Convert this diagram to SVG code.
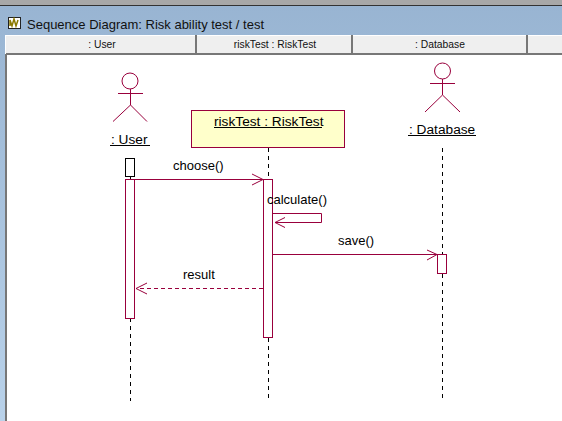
<svg xmlns="http://www.w3.org/2000/svg" width="562" height="421" viewBox="0 0 562 421">
<style>
text{font-family:"Liberation Sans",Arial,sans-serif;fill:#000}
.m{font-size:13px}
.n{font-size:13.700px}
.h{font-size:10.300px;text-anchor:middle;fill:#111}
.p{fill:none;stroke:#99003c;stroke-width:1}
.b{fill:#fff;stroke:#99003c;stroke-width:1}
.l{stroke:#000;stroke-width:1;stroke-dasharray:4 4;fill:none}
.u{stroke:#000;stroke-width:1}
</style>
<defs>
<linearGradient id="t" x1="0" y1="0" x2="0" y2="1"><stop offset="0" stop-color="#98b4d2"/><stop offset="1" stop-color="#b9d2ea"/></linearGradient>
</defs>
<g id="window">
<rect x="0" y="0" width="562" height="421" fill="url(#t)"/>
<rect x="0" y="0" width="562" height="5" fill="#a8a8a8"/>
<rect x="0" y="5" width="562" height="1" fill="#333"/>
<rect x="8.500" y="17.500" width="12" height="11" fill="#fff" stroke="#222"/>
<path d="M10 26V20L12 26L14 19L16 26L18 20" fill="none" stroke="#8a7a00" stroke-width="1.500"/>
<text x="27" y="29" style="font-size:13px;fill:#111">Sequence Diagram: Risk ability test / test</text>
<rect x="5" y="35" width="557" height="19" fill="#efefef"/>
<rect x="5" y="35" width="557" height="1" fill="#fff"/>
<rect x="5" y="53" width="557" height="2" fill="#777"/>
<rect x="5" y="35" width="1" height="19" fill="#fff"/>
<rect x="195" y="35" width="2" height="18" fill="#777"/>
<rect x="351" y="35" width="2" height="18" fill="#777"/>
<rect x="526" y="35" width="2" height="18" fill="#777"/>
<text class="h" x="102" y="48">: User</text>
<text class="h" x="275" y="48">riskTest : RiskTest</text>
<text class="h" x="440" y="48">: Database</text>
<rect x="5" y="55" width="557" height="366" fill="#fff"/>
<rect x="5" y="55" width="2" height="366" fill="#777"/>
</g>
<g id="connectors">
<path class="l" d="M130.500 318V401"/>
<path class="l" d="M130.500 177V180"/>
<path class="l" d="M268.500 148V180"/>
<path class="l" d="M268.500 338V402"/>
<path class="l" d="M442.500 148V254"/>
<path class="l" d="M442.500 274V402"/>
<path class="p" d="M134 179.500H263"/>
<path class="p" d="M252 174L263 179.500L252 185"/>
<path class="p" d="M273 213.500H321.500V222.500H275"/>
<path class="p" d="M285 217.500L275 222.500L285 227.500"/>
<path class="p" d="M273 254.500H437"/>
<path class="p" d="M427 250L437 254.500L427 260"/>
<path class="p" d="M263 288.500H136" stroke-dasharray="4 3"/>
<path class="p" d="M147 283L136 288.500L147 294"/>
</g>
<g id="user">
<circle class="p" cx="130" cy="81" r="8"/>
<path class="p" d="M130.500 89V105M118 93.500H143M130.500 105L113 121.500M130.500 105L147 121.500"/>
<text class="n" x="111" y="144">: User</text>
<path class="u" d="M110 145.500H150"/>
<rect x="125.500" y="158.500" width="9" height="18" fill="#fff" stroke="#000"/>
<rect class="b" x="125.500" y="179.500" width="9" height="139"/>
</g>
<g id="riskTest">
<rect x="191.500" y="110.500" width="153" height="37" fill="#ffffcb" stroke="#99003c"/>
<text class="n" x="214" y="126">riskTest : RiskTest</text>
<path class="u" d="M214 127.500H322"/>
<rect class="b" x="263.500" y="179.500" width="9" height="158"/>
</g>
<g id="database">
<circle class="p" cx="442.500" cy="71" r="8"/>
<path class="p" d="M442.500 79V95M430 83.500H455M442.500 95L425 112M442.500 95L460 112"/>
<text class="n" x="409" y="134">: Database</text>
<path class="u" d="M408 135.500H476"/>
<rect class="b" x="437.500" y="254.500" width="9" height="19"/>
</g>
<g id="connector-labels">
<text class="m" x="173" y="170">choose()</text>
<text class="m" x="267" y="204">calculate()</text>
<text class="m" x="338" y="245">save()</text>
<text class="m" x="183" y="279">result</text>
</g>
</svg>
